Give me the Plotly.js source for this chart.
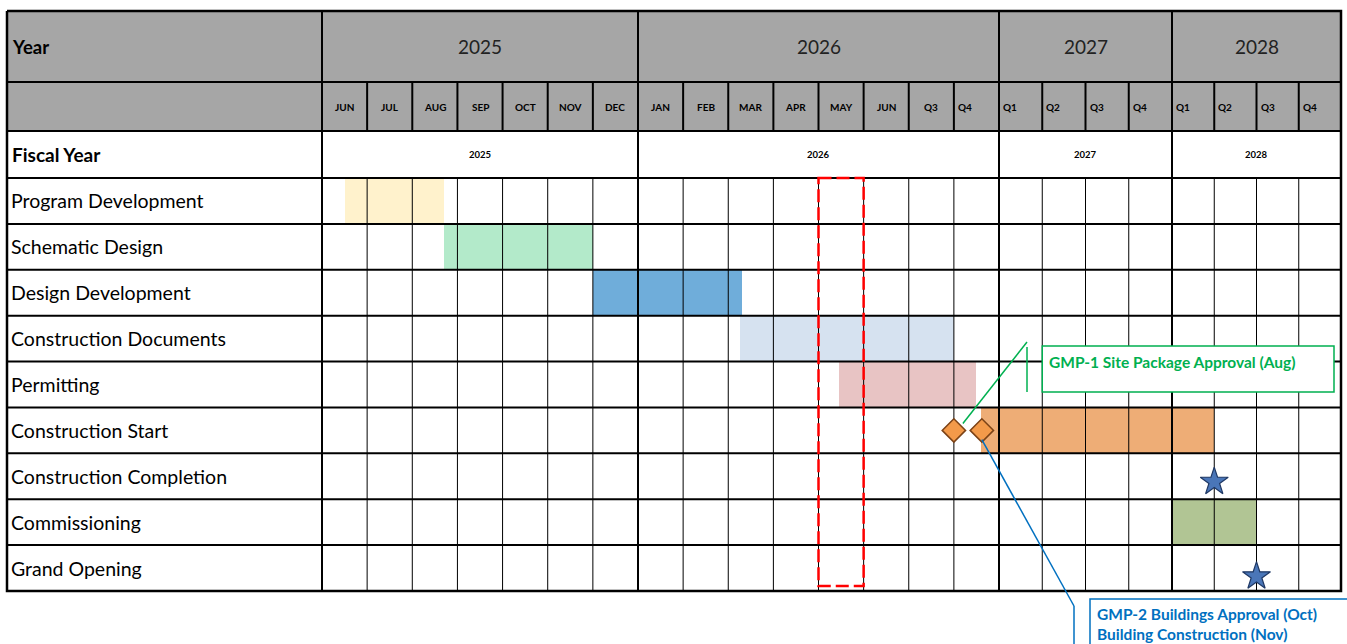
<!DOCTYPE html>
<html>
<head>
<meta charset="utf-8">
<script src="https://cdn.plot.ly/plotly-3.0.1.min.js"></script>
<style>html,body{margin:0;padding:0;background:#fff;}#chart{width:1347px;height:644px;}</style>
</head>
<body>
<div id="chart"></div>
<script>
// ---------------- DATA ----------------
const tasks = ['Program Development','Schematic Design','Design Development','Construction Documents','Permitting','Construction Start','Construction Completion','Commissioning','Grand Opening'];
// bar start / end in column index units (0 = start of JUN 2025 column)
const barStart = [0.5, 2.7, 6.0, 9.25, 11.45, 14.6, null, 19.0, null];
const barEnd   = [2.7, 6.0, 9.3, 14.0, 14.5, 20.0, null, 21.0, null];
const barColors = ['#FFF2CC','#B3EACA','#6FADDA','#D6E2F0','#E8C4C4','#EEAD76','#FFFFFF','#B1C594','#FFFFFF'];
const headerYears = ['2025','2026','2027','2028'];
const yearColCounts = [7, 8, 4, 4];
const fiscalYears = ['2025','2026','2027','2028'];
const periodLabels = ['JUN','JUL','AUG','SEP','OCT','NOV','DEC','JAN','FEB','MAR','APR','MAY','JUN','Q3','Q4','Q1','Q2','Q3','Q4','Q1','Q2','Q3','Q4'];
// milestones
const diamondCol = [14.0, 14.62];
const diamondRow = ['Construction Start','Construction Start'];
const starCol = [20.0, 21.0];
const starRow = ['Construction Completion','Grand Opening'];
const starRowOffset = [0.62, 0.68];
const highlightCol = 11; // MAY 2026
const callout1 = 'GMP-1 Site Package Approval (Aug)';
const callout2 = 'GMP-2 Buildings Approval (Oct)<br>Building Construction (Nov)';

// ---------------- LAYOUT GEOMETRY ----------------
const W = 1347, H = 644;
const L = 7, G = 322, T = 11, Y1 = 82, Y2 = 131, Y3 = 178, B = 591;
const yearBounds = [322, 638, 999, 1172, 1341];
const R = yearBounds[yearBounds.length-1];
const rowH = (B - Y3) / tasks.length;
const FONT = 'Lato, "Open Sans", sans-serif';

// column boundaries in px-units on the x axis
const colB = [];
yearColCounts.forEach((n, i) => {
  const a = yearBounds[i], b = yearBounds[i+1];
  for (let k = 0; k < n; k++) colB.push(a + (b - a) * k / n);
});
colB.push(R);
function colX(c){ const i = Math.min(Math.floor(c), colB.length-2); return colB[i] + (colB[i+1]-colB[i])*(c-i); }
function yU(px){ return (px - Y3) / rowH; }     // pixel -> row units
function rowOf(name){ return tasks.indexOf(name); }

// ---------------- TRACES ----------------
const traces = [];
// bars
const bi = tasks.map((t,i)=>i).filter(i => barStart[i] !== null);
traces.push({
  type:'bar', orientation:'h',
  y: bi.map(i => i + 0.5),
  base: bi.map(i => colX(barStart[i])),
  x: bi.map(i => colX(barEnd[i]) - colX(barStart[i])),
  width: 1.0,
  marker:{color: bi.map(i => barColors[i]), line:{width:0}},
  hoverinfo:'skip', showlegend:false
});

// grid lines as line traces (above bars, below markers)
function seg(arrX, arrY, x0, y0, x1, y1){ arrX.push(x0, x1, null); arrY.push(y0, y1, null); }
const thinX=[], thinY=[], thickX=[], thickY=[];
const yearIdx = [0]; yearColCounts.reduce((s,n)=>{ yearIdx.push(s+n); return s+n; }, 0);
for (let k = 1; k < colB.length-1; k++) {
  if (yearIdx.indexOf(k) >= 0) continue;
  seg(thinX, thinY, colB[k], 0, colB[k], tasks.length);
  seg(thickX, thickY, colB[k], yU(Y1), colB[k], yU(Y2));
}
// year boundaries full height
[G, yearBounds[1], yearBounds[2], yearBounds[3]].forEach(x => seg(thickX, thickY, x, yU(T), x, tasks.length));
// horizontal lines
[Y1, Y2, Y3].forEach(y => seg(thickX, thickY, L, yU(y), R, yU(y)));
for (let r = 1; r < tasks.length; r++) seg(thickX, thickY, L, r, R, r);
traces.push({type:'scatter', mode:'lines', x:thinX, y:thinY, line:{color:'#000', width:1}, hoverinfo:'skip', showlegend:false});
traces.push({type:'scatter', mode:'lines', x:thickX, y:thickY, line:{color:'#000', width:2}, hoverinfo:'skip', showlegend:false});
// outer border
traces.push({type:'scatter', mode:'lines', x:[L,R,R,L,L], y:[yU(T),yU(T),tasks.length,tasks.length,yU(T)], line:{color:'#000', width:2.5}, hoverinfo:'skip', showlegend:false});

// diamonds
traces.push({type:'scatter', mode:'markers',
  x: diamondCol.map(colX), y: diamondRow.map(n => rowOf(n) + 0.5),
  marker:{symbol:'diamond', size:18, color:'#F39A4A', line:{color:'#7B4216', width:1.5}},
  hoverinfo:'skip', showlegend:false});
// stars
traces.push({type:'scatter', mode:'markers',
  x: starCol.map(colX), y: starRow.map((n,i) => rowOf(n) + starRowOffset[i]),
  marker:{symbol:'star', size:21, color:'#4A76B8', line:{color:'#1F3864', width:1.2}},
  hoverinfo:'skip', showlegend:false});

// ---------------- SHAPES / ANNOTATIONS ----------------
const shapes = [];
const ann = [];
// header fill
shapes.push({type:'rect', xref:'x', yref:'y', x0:L, x1:R, y0:yU(T), y1:yU(Y2), fillcolor:'#A6A6A6', line:{width:0}, layer:'below'});
// highlight red dashed rectangle
shapes.push({type:'rect', xref:'x', yref:'y', x0:colX(highlightCol), x1:colX(highlightCol+1), y0:0, y1:yU(586), line:{color:'#FF0000', width:2.5, dash:'13px,5px'}, fillcolor:'rgba(0,0,0,0)', layer:'above'});

// callout 1 (green)
const d1x = colX(diamondCol[0]), dy = rowOf(diamondRow[0]) + 0.5;
shapes.push({type:'line', xref:'x', yref:'y', x0:d1x + 9, y0:dy - 0.15, x1:1027, y1:yU(342), line:{color:'#00B050', width:1.5}});
shapes.push({type:'line', xref:'x', yref:'y', x0:1027, y0:yU(347), x1:1027, y1:yU(392), line:{color:'#00B050', width:1.5}});
shapes.push({type:'rect', xref:'x', yref:'y', x0:colX(16), x1:1334, y0:yU(346), y1:yU(392), fillcolor:'#FFFFFF', line:{color:'#00B050', width:1.5}});
ann.push({xref:'x', yref:'y', x:colX(16)+5, y:yU(362), xanchor:'left', yanchor:'middle', showarrow:false, text:'<b>'+callout1+'</b>', font:{family:FONT, size:15.5, color:'#00B050'}});

// callout 2 (blue)
const d2x = colX(diamondCol[1]);
shapes.push({type:'line', xref:'x', yref:'y', x0:d2x, y0:dy + 0.2, x1:1074, y1:yU(606), line:{color:'#0070C0', width:1.5}});
shapes.push({type:'line', xref:'x', yref:'y', x0:1074, y0:yU(606), x1:1074, y1:yU(650), line:{color:'#0070C0', width:1.5}});
shapes.push({type:'rect', xref:'x', yref:'y', x0:1090, x1:1352, y0:yU(599), y1:yU(660), fillcolor:'#FFFFFF', line:{color:'#0070C0', width:1.5}});
ann.push({xref:'x', yref:'y', x:1095, y:yU(624), xanchor:'left', yanchor:'middle', align:'left', showarrow:false, text:'<b>'+callout2+'</b>', font:{family:FONT, size:15.5, color:'#0070C0'}});

// header text
ann.push({xref:'x', yref:'y', x:L+3, y:yU((T+Y1)/2), xanchor:'left', showarrow:false, text:'<b>Year</b>', font:{family:FONT, size:18.5, color:'#000'}});
ann.push({xref:'x', yref:'y', x:L+3, y:yU((Y2+Y3)/2), xanchor:'left', showarrow:false, text:'<b>Fiscal Year</b>', font:{family:FONT, size:19, color:'#000'}});
headerYears.forEach((yr,i) => {
  ann.push({xref:'x', yref:'y', x:(yearBounds[i]+yearBounds[i+1])/2, y:yU((T+Y1)/2), showarrow:false, text:yr, font:{family:FONT, size:19, color:'#222'}});
  ann.push({xref:'x', yref:'y', x:(yearBounds[i]+yearBounds[i+1])/2, y:yU((Y2+Y3)/2), showarrow:false, text:'<b>'+fiscalYears[i]+'</b>', font:{family:FONT, size:9.5, color:'#000'}});
});
periodLabels.forEach((p,k) => {
  const left = k >= 14;
  ann.push({xref:'x', yref:'y', x: left ? colB[k]+2 : (colB[k]+colB[k+1])/2, xanchor: left ? 'left':'center', y:yU((Y1+Y2)/2), showarrow:false, text:'<b>'+p+'</b>', font:{family:FONT, size:10, color:'#000'}});
});
// task labels
tasks.forEach((t,i) => {
  ann.push({xref:'x', yref:'y', x:L+2, y:i+0.5, xanchor:'left', showarrow:false, text:t, font:{family:FONT, size:19.5, color:'#000'}});
});

const layout = {
  width:W, height:H, margin:{l:0,r:0,t:0,b:0},
  paper_bgcolor:'#fff', plot_bgcolor:'#fff',
  xaxis:{range:[0,W], visible:false, fixedrange:true},
  yaxis:{range:[yU(H), yU(0)], visible:false, fixedrange:true},
  bargap:0, showlegend:false, shapes:shapes, annotations:ann
};
Plotly.newPlot('chart', traces, layout, {displayModeBar:false, staticPlot:true});
</script>
</body>
</html>
